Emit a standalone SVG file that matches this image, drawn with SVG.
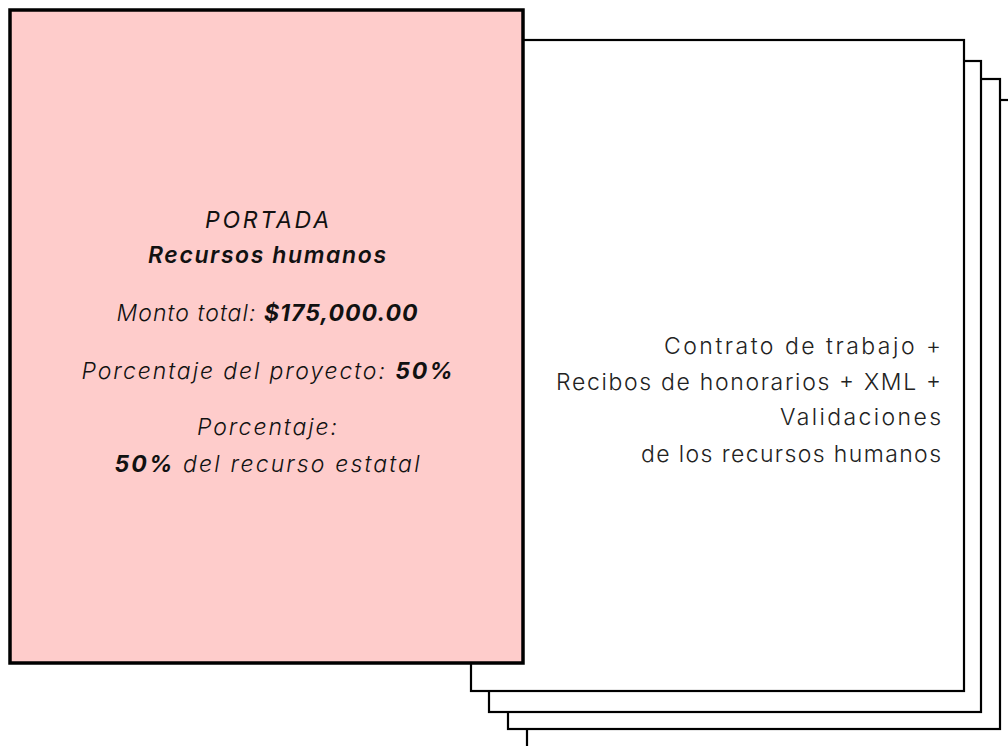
<svg xmlns="http://www.w3.org/2000/svg" width="1008" height="746" viewBox="0 0 1008 746">
<style>
.page{fill:#fff;stroke:#000;stroke-width:2.2}
.front{fill:#fecccb;stroke:#000;stroke-width:3.5}
.t{font-family:Inter,"Noto Sans",sans-serif;font-size:23px;fill:#111;font-style:italic;text-anchor:middle}
.lt{font-weight:300}
.b{font-weight:700}
.r{font-family:Inter,"Noto Sans",sans-serif;font-size:23px;font-weight:300;fill:#222;text-anchor:end}
</style>
<g id="page4"><rect class="page" x="527" y="100" width="500" height="660"/></g>
<g id="page3"><rect class="page" x="508" y="79" width="492" height="650"/></g>
<g id="page2"><rect class="page" x="489" y="61" width="492" height="651"/></g>
<g id="page1"><rect class="page" x="471" y="40" width="493" height="651"/>
<text class="r" x="941" y="354" textLength="277" lengthAdjust="spacing">Contrato de trabajo +</text>
<text class="r" x="941" y="390" textLength="385" lengthAdjust="spacing">Recibos de honorarios + XML +</text>
<text class="r" x="941" y="425" textLength="161" lengthAdjust="spacing">Validaciones</text>
<text class="r" x="941" y="462" textLength="300" lengthAdjust="spacing">de los recursos humanos</text>
</g>
<g id="portada"><rect class="front" x="10" y="10" width="513" height="653"/>
<text class="t" x="267" y="228" textLength="124" lengthAdjust="spacing">PORTADA</text>
<text class="t" style="font-weight:600" x="267" y="263" textLength="238" lengthAdjust="spacing">Recursos humanos</text>
<text class="t lt" x="267" y="321" textLength="301" lengthAdjust="spacing">Monto total: <tspan class="b">$175,000.00</tspan></text>
<text class="t lt" x="267" y="379" textLength="371" lengthAdjust="spacing">Porcentaje del proyecto: <tspan class="b">50%</tspan></text>
<text class="t lt" x="267" y="435" textLength="140" lengthAdjust="spacing">Porcentaje:</text>
<text class="t lt" x="267" y="472" textLength="305" lengthAdjust="spacing"><tspan class="b">50%</tspan> del recurso estatal</text>
</g>
</svg>
